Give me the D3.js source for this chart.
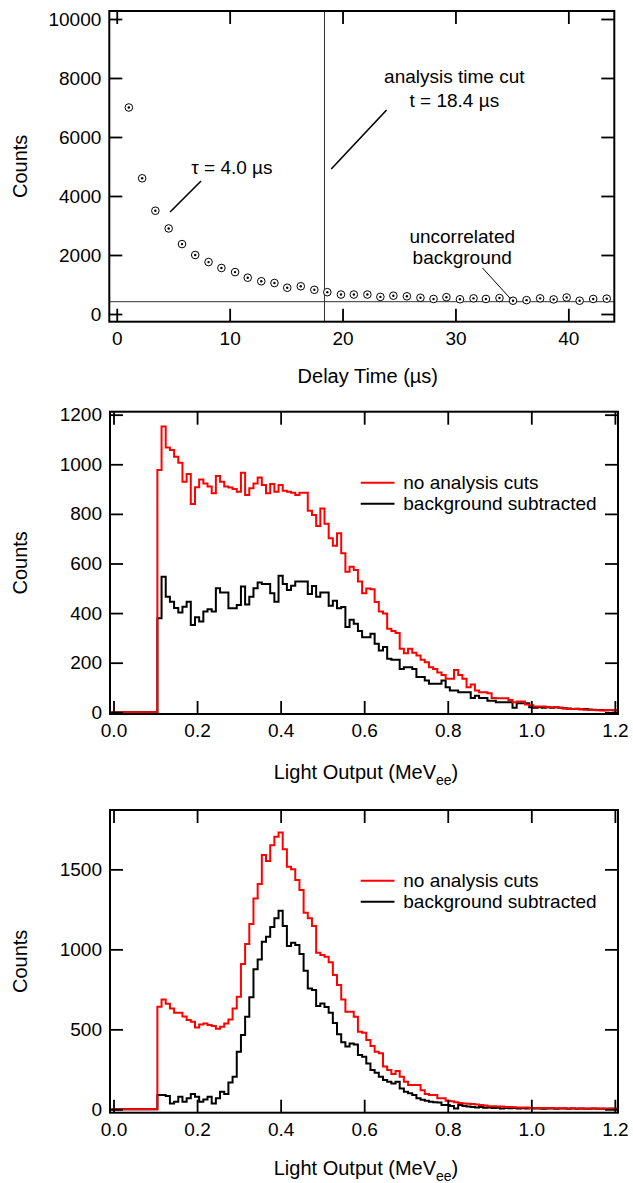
<!DOCTYPE html>
<html>
<head>
<meta charset="utf-8">
<script src="https://cdn.jsdelivr.net/npm/d3@7"></script>
<style>
  body { margin: 0; background: #fff; }
  svg { display: block; }
  text { font-family: "Liberation Sans", Arial, sans-serif; fill: #000; }
</style>
</head>
<body>
<svg id="canvas"></svg>
<script>
/* ---- data: delay time spectrum ---- */
const delayTime = [1.07, 2.25, 3.42, 4.6, 5.78, 6.95, 8.13, 9.27, 10.48, 11.6, 12.8, 13.97, 15.1,
  16.3, 17.5, 18.65, 19.86, 21.0, 22.2, 23.35, 24.5, 25.7, 26.9, 28.06, 29.2, 30.4, 31.6, 32.7,
  33.9, 35.1, 36.3, 37.5, 38.7, 39.85, 41.0, 42.2, 43.4];
const delayCounts = [7000, 4600, 3500, 2900, 2370, 2000, 1760, 1560, 1420, 1230, 1110, 1050, 890,
  940, 820, 740, 660, 660, 660, 580, 620, 600, 550, 510, 570, 500, 530, 510,
  540, 450, 470, 530, 495, 560, 450, 510, 520];
const backgroundLevel = 417;
const timeCut = 18.4;

/* ---- data: light output histograms, bins 0.00 .. 1.20 MeVee (width 0.01) ---- */
const binWidth = 0.01;
const binFirst = 0.0;

const midRed = [0,0,0,0,0,0,0,0,0,0,0,
  977,1152,1068,1058,1030,1006,930,961,840,907,
  939,923,910,883,953,930,910,906,900,889,
  966,876,903,923,947,916,883,920,889,916,
  893,889,885,876,885,885,813,795,751,822,
  760,702,671,722,641,567,587,574,527,480,
  499,496,445,406,398,337,328,320,256,238,
  256,240,229,212,202,182,175,160,150,135,
  135,171,150,135,101,112,88,81,81,77,
  58,57,57,57,50,40,43,43,31,28,
  23,23,23,20,20,20,18,15,13,13,
  13,12,10,9,9,8,7,9,9,8];
const midBlack = [0,0,0,0,0,0,0,0,0,0,0,
  379,547,466,446,420,402,426,446,352,383,
  366,406,415,406,500,483,483,419,419,433,
  507,435,466,500,523,517,517,480,446,551,
  517,493,510,527,527,527,477,509,466,483,
  483,430,450,419,425,344,373,357,328,303,
  303,317,276,249,263,216,212,212,175,182,
  182,175,142,142,128,115,115,115,128,101,
  88,88,81,81,81,58,67,58,58,47,
  47,40,40,40,40,18,36,36,36,20,
  18,20,18,20,18,20,18,16,15,13,
  14,12,13,11,10,9,9,8,9,8];

const botRed = [0,0,0,0,0,0,0,0,0,0,0,
  642,687,660,631,604,604,580,558,548,512,
  531,537,527,521,504,517,537,562,631,704,
  908,1033,1158,1318,1408,1589,1552,1650,1704,1731,
  1625,1516,1500,1433,1371,1229,1194,1146,979,965,
  954,920,839,777,687,610,610,579,485,479,
  433,396,360,350,267,246,221,240,204,173,
  152,152,152,120,96,90,90,69,69,54,
  50,45,40,37,35,33,30,27,24,20,
  19,18,17,15,14,13,12,12,11,9,
  9,9,8,8,8,7,7,7,6,7,
  6,6,5,6,5,5,5,4,5,5];
const botBlack = [0,0,0,0,0,0,0,0,0,0,0,
  90,90,83,37,48,79,48,69,96,79,
  48,62,79,37,70,110,96,167,204,360,
  464,579,700,875,937,1048,1079,1140,1194,1241,
  1146,1021,1041,1027,971,867,756,746,646,662,
  640,604,540,470,420,392,412,405,340,329,
  287,246,229,204,183,173,162,173,131,110,
  100,90,69,60,54,48,45,42,27,27,
  21,6,27,21,18,15,12,14,10,12,
  8,10,6,9,7,8,5,7,6,8,
  5,6,4,6,5,4,6,5,3,5,
  4,5,4,3,5,4,3,4,3,3];

const seriesNames = ["no analysis cuts", "background subtracted"];
const seriesColors = ["#ff0000", "#000000"];

/* ---- layout ---- */
const width = 633, height = 1183;
const svg = d3.select("#canvas").attr("width", width).attr("height", height);

const fontTick = 19, fontTitle = 20;
const tickLen = 13;

function frame(g, x, y) {
  const [x0, x1] = x.range();
  const [y0, y1] = y.range();
  g.append("rect")
    .attr("x", x0).attr("y", y1)
    .attr("width", x1 - x0).attr("height", y0 - y1)
    .attr("fill", "none").attr("stroke", "#000").attr("stroke-width", 2);
}

function axes(g, x, y, xTicks, yTicks, xFmt, yFmt) {
  const [x0, x1] = x.range();
  const [y0, y1] = y.range();
  const style = sel => {
    sel.select(".domain").remove();
    sel.selectAll(".tick line").attr("stroke", "#000").attr("stroke-width", 1.8);
    sel.selectAll(".tick text").style("font-size", fontTick + "px")
      .style("font-family", "'Liberation Sans', Arial, sans-serif").attr("fill", "#000");
  };
  g.append("g").attr("transform", `translate(0,${y0})`)
    .call(d3.axisBottom(x).tickValues(xTicks).tickFormat(xFmt).tickSize(-tickLen).tickPadding(10))
    .call(style);
  g.append("g").attr("transform", `translate(0,${y1})`)
    .call(d3.axisTop(x).tickValues(xTicks).tickFormat("").tickSize(-tickLen))
    .call(style);
  g.append("g").attr("transform", `translate(${x0},0)`)
    .call(d3.axisLeft(y).tickValues(yTicks).tickFormat(yFmt).tickSize(-tickLen).tickPadding(8))
    .call(style);
  g.append("g").attr("transform", `translate(${x1},0)`)
    .call(d3.axisRight(y).tickValues(yTicks).tickFormat("").tickSize(-tickLen))
    .call(style);
}

function yTitle(g, y) {
  const [y0, y1] = y.range();
  g.append("text")
    .attr("transform", `translate(20,${(y0 + y1) / 2}) rotate(-90)`)
    .attr("text-anchor", "middle").attr("dy", "0.35em")
    .style("font-size", fontTitle + "px")
    .text("Counts");
}

function lightTitle(g, cx, cy) {
  const t = g.append("text")
    .attr("x", cx).attr("y", cy).attr("dy", "0.35em")
    .attr("text-anchor", "middle")
    .style("font-size", fontTitle + "px");
  t.append("tspan").text("Light Output (MeV");
  t.append("tspan").attr("dy", "6").style("font-size", "14px").text("ee");
  t.append("tspan").attr("dy", "-6").text(")");
}

/* ---- panel 1: delay time ---- */
{
  const g = svg.append("g");
  const x = d3.scaleLinear().domain([-0.66, 44.07]).range([109.3, 614.3]);
  const y = d3.scaleLinear().domain([-261, 10271]).range([321.7, 11]);

  // background level and time cut
  g.append("line")
    .attr("x1", x.range()[0]).attr("x2", x.range()[1])
    .attr("y1", y(backgroundLevel)).attr("y2", y(backgroundLevel))
    .attr("stroke", "#333").attr("stroke-width", 1);
  g.append("line")
    .attr("x1", x(timeCut)).attr("x2", x(timeCut))
    .attr("y1", y.range()[0]).attr("y2", y.range()[1])
    .attr("stroke", "#333").attr("stroke-width", 1);

  const pts = g.append("g").selectAll("g")
    .data(delayTime.map((t, i) => ({ t, c: delayCounts[i] })))
    .join("g")
    .attr("transform", d => `translate(${x(d.t)},${y(d.c)})`);
  pts.append("circle").attr("r", 3.8).attr("fill", "#fff").attr("stroke", "#000").attr("stroke-width", 1);
  pts.append("circle").attr("r", 1.2).attr("fill", "#000");

  frame(g, x, y);
  axes(g, x, y, [0, 10, 20, 30, 40], d3.range(0, 10001, 2000), d3.format("d"), d3.format("d"));
  yTitle(g, y);

  g.append("text")
    .attr("x", (x.range()[0] + x.range()[1]) / 2 + 6).attr("y", 376).attr("dy", "0.35em")
    .attr("text-anchor", "middle").style("font-size", fontTitle + "px")
    .text("Delay Time (µs)");

  // annotations (data coordinates)
  const note = (tx, ty, s) => g.append("text")
    .attr("x", x(tx)).attr("y", y(ty)).attr("dy", "0.35em")
    .attr("text-anchor", "middle").style("font-size", fontTick + "px").text(s);
  const lead = (a, b, c, d, w) => g.append("line")
    .attr("x1", x(a)).attr("y1", y(b)).attr("x2", x(c)).attr("y2", y(d))
    .attr("stroke", "#000").attr("stroke-width", w);

  note(29.9, 8068, "analysis time cut");
  note(29.9, 7255, "t = 18.4 µs");
  lead(23.9, 6916, 19.0, 4916, 1.6);
  note(10.2, 4983, "τ = 4.0 µs");
  lead(7.47, 4509, 4.72, 3458, 1.6);
  note(30.6, 2644, "uncorrelated");
  note(30.6, 1932, "background");
  lead(32.4, 1559, 34.9, 508, 1);
}

/* ---- histogram panels ---- */
function histPanel(frameY, yDomain, yTicks, red, black, legendY, titleY) {
  const g = svg.append("g");
  const x = d3.scaleLinear().domain([-0.0084, 1.2075]).range([110, 618]);
  const y = d3.scaleLinear().domain(yDomain).range(frameY);

  const line = d3.line().curve(d3.curveStepAfter).x(d => x(d[0])).y(d => y(d[1]));
  const toSteps = vals => {
    const pts = vals.map((v, i) => [binFirst + i * binWidth - binWidth / 2, v]);
    pts.push([binFirst + (vals.length - 1) * binWidth + binWidth / 2, vals[vals.length - 1]]);
    return pts;
  };

  g.append("clipPath").attr("id", "clip" + frameY[0])
    .append("rect").attr("x", 110).attr("y", frameY[1])
    .attr("width", 508).attr("height", frameY[0] - frameY[1]);
  const plot = g.append("g").attr("clip-path", `url(#clip${frameY[0]})`);

  [black, red].forEach((vals, i) => {
    plot.append("path")
      .attr("d", line(toSteps(vals)))
      .attr("fill", "none")
      .attr("stroke", i === 0 ? seriesColors[1] : seriesColors[0])
      .attr("stroke-width", 2)
      .attr("stroke-linejoin", "miter");
  });

  frame(g, x, y);
  axes(g, x, y, d3.range(0, 1.21, 0.2), yTicks, d3.format(".1f"), d3.format("d"));
  yTitle(g, y);
  lightTitle(g, (x.range()[0] + x.range()[1]) / 2 + 2, titleY);

  const leg = g.append("g").selectAll("g").data(seriesNames).join("g")
    .attr("transform", (d, i) => `translate(0,${legendY + i * 21})`);
  leg.append("line").attr("x1", 360.7).attr("x2", 394.5)
    .attr("stroke", (d, i) => seriesColors[i]).attr("stroke-width", 2);
  leg.append("text").attr("x", 403.3).attr("dy", "0.35em")
    .style("font-size", fontTick + "px").text(d => d);
}

histPanel([714, 411.7], [-6.9, 1212], d3.range(0, 1201, 200), midRed, midBlack, 482.7, 772);
histPanel([1112.7, 810], [-21, 1871], d3.range(0, 1501, 500), botRed, botBlack, 880.7, 1168);
</script>
</body>
</html>
